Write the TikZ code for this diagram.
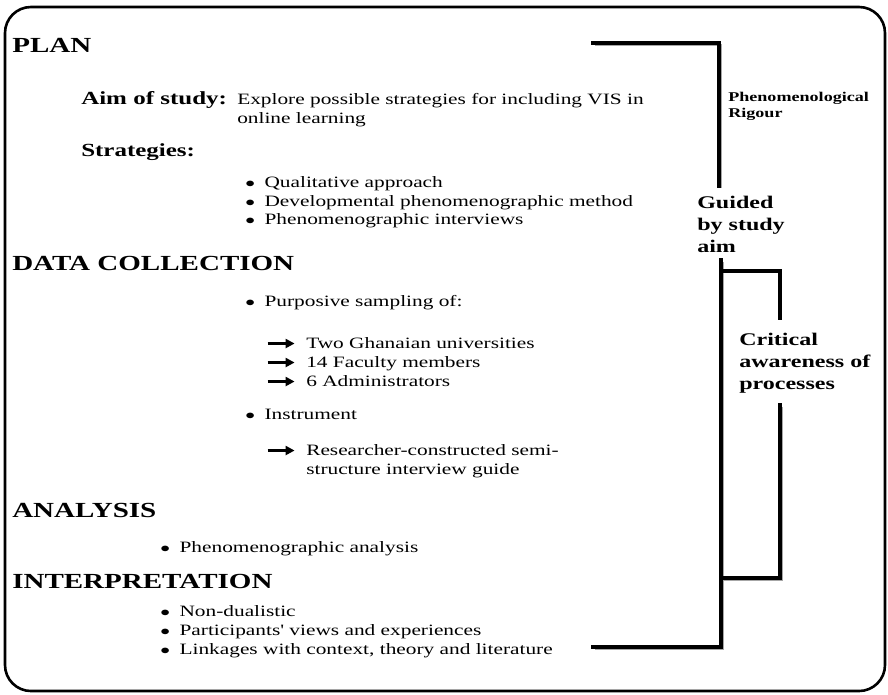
\documentclass[tikz,border=0pt]{standalone}
\usepackage{fontspec}
\setmainfont{Liberation Serif}
\usetikzlibrary{arrows.meta}
\newcommand{\bul}{$\bullet$\hspace{0.45em}}
\tikzset{
  body/.style={anchor=base west, inner sep=0pt, font=\fontsize{15.8}{19}\selectfont},
  head/.style={anchor=base west, inner sep=0pt, font=\fontsize{21.5}{25}\selectfont\bfseries},
  sub/.style={anchor=base west, inner sep=0pt, font=\fontsize{18.5}{22}\selectfont\bfseries},
  side/.style={anchor=base west, inner sep=0pt, font=\fontsize{17.8}{22}\selectfont\bfseries, align=left},
  small/.style={anchor=base west, inner sep=0pt, font=\fontsize{13.4}{16}\selectfont\bfseries, align=left},
  brace/.style={line width=3.4pt, line cap=rect},
  ghost/.style={line width=1.2pt, black!35},
  pointer/.style={line width=2.4pt, -{Triangle[length=9pt, width=9pt]}}
}
\begin{document}
\begin{tikzpicture}[xscale=1.35, x=0.7407pt, y=-1pt, every node/.style={transform shape}]
\useasboundingbox (0,0) rectangle (888,694);
\draw[line width=2.6pt, rounded corners=26pt] (5,7) rectangle (885,691);
% plan
\node (plan) at (12,52) [head] {PLAN};
\node (aim) at (81,104) [sub] {Aim of study:};
\node (aimtxt) at (237,104) [body] {Explore possible strategies for including VIS in};
\node (aimtxt2) at (237,123) [body] {online learning};
\node (strat) at (81,156) [sub] {Strategies:};
\node (s1) at (245,187) [body] {\bul Qualitative approach};
\node (s2) at (245,206) [body] {\bul Developmental phenomenographic method};
\node (s3) at (245,224) [body] {\bul Phenomenographic interviews};
% data collection
\node (data) at (12,270) [head] {DATA COLLECTION};
\node (d1) at (245,306) [body] {\bul Purposive sampling of:};
\node (d2) at (306,348) [body] {Two Ghanaian universities};
\node (d3) at (306,367) [body] {14 Faculty members};
\node (d4) at (306,386) [body] {6 Administrators};
\node (d5) at (245,419) [body] {\bul Instrument};
\node (d6) at (306,455) [body] {Researcher-constructed semi-};
\node (d7) at (306,474) [body] {structure interview guide};
\foreach \n in {d2,d3,d4,d6}
  \draw[pointer] ([xshift=-28.5, yshift=4.5pt]\n.base west) -- ([xshift=-8.5, yshift=4.5pt]\n.base west);
% analysis
\node (ana) at (12,517) [head] {ANALYSIS};
\node (a1) at (160,552) [body] {\bul Phenomenographic analysis};
\node (inter) at (12,588) [head] {INTERPRETATION};
\node (i1) at (160,616) [body] {\bul Non-dualistic};
\node (i2) at (160,635) [body] {\bul Participants\textquotesingle{} views and experiences};
\node (i3) at (160,654) [body] {\bul Linkages with context, theory and literature};
% side labels
\node (rig) at (728,117) [small] {Phenomenological\\Rigour};
\node (guide) at (697,252) [side] {Guided\\by study\\aim};
\node (crit) at (739,389) [side] {Critical\\awareness of\\processes};
% brackets
\coordinate (p0) at (593,43);
\coordinate (p1) at (719,43);
\coordinate (p2) at (719,186);
\coordinate (q0) at (721,260);
\coordinate (q1) at (721,647);
\coordinate (q2) at (593,647);
\coordinate (c0) at (780,271);
\coordinate (c1) at (780,318);
\coordinate (c2) at (780,405);
\coordinate (c3) at (780,578);
\draw[ghost] ([shift={(2,2)}]p0) -- ([shift={(2,2)}]p1) -- ([shift={(2,2)}]p2);
\draw[ghost] ([shift={(2,2)}]q0) -- ([shift={(2,2)}]q1) -- ([shift={(2,2)}]q2);
\draw[ghost] ([shift={(2,2)}]c2) -- ([shift={(2,2)}]c3) -- ([shift={(2,2)}]q0 |- c3);
\draw[brace] (p0) -- (p1) -- (p2);
\draw[brace] (q0) -- (q1) -- (q2);
\draw[brace] (q0 |- c0) -- (c0) -- (c1);
\draw[brace] (c2) -- (c3) -- (q0 |- c3);
\end{tikzpicture}
\end{document}
